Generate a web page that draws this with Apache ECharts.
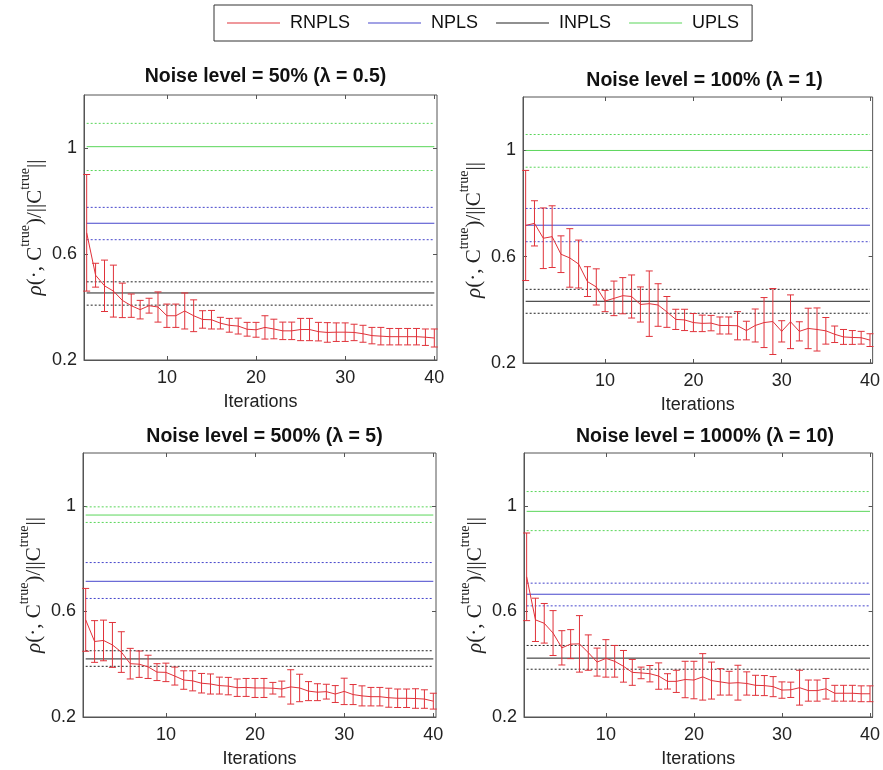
<!DOCTYPE html>
<html>
<head>
<meta charset="utf-8">
<script src="https://cdn.jsdelivr.net/npm/echarts@6/dist/echarts.min.js"></script>
<style>
html,body{margin:0;padding:0;background:#fff;}
#chart{width:883px;height:770px;}
</style>
</head>
<body>
<div id="chart"></div>
<script>
// ---- Data ----
const iterations = [1,2,3,4,5,6,7,8,9,10,11,12,13,14,15,16,17,18,19,20,21,22,23,24,25,26,27,28,29,30,31,32,33,34,35,36,37,38,39,40];
const xTicks = [10, 20, 30, 40];
const yTicks = [0.2, 0.6, 1];
const legendNames = ['RNPLS', 'NPLS', 'INPLS', 'UPLS'];
const panelTitles = [
  'Noise level = 50% (\u03bb = 0.5)',
  'Noise level = 100% (\u03bb = 1)',
  'Noise level = 500% (\u03bb = 5)',
  'Noise level = 1000% (\u03bb = 10)'
];

// RNPLS mean and error (half-width) per iteration
const rnplsMean50 = [0.68,0.52,0.48,0.46,0.425,0.405,0.39,0.405,0.40,0.367,0.367,0.385,0.367,0.353,0.352,0.339,0.331,0.328,0.316,0.314,0.323,0.317,0.31,0.31,0.315,0.315,0.307,0.304,0.305,0.305,0.304,0.299,0.292,0.29,0.288,0.288,0.288,0.288,0.286,0.283];
const rnplsErr50  = [0.22,0.045,0.097,0.098,0.065,0.044,0.035,0.028,0.057,0.044,0.044,0.068,0.06,0.033,0.035,0.022,0.026,0.03,0.026,0.028,0.044,0.037,0.033,0.033,0.042,0.042,0.035,0.037,0.035,0.035,0.031,0.032,0.031,0.033,0.031,0.031,0.031,0.031,0.031,0.034];

const rnplsMean100 = [0.717,0.725,0.669,0.675,0.609,0.595,0.572,0.506,0.486,0.433,0.443,0.453,0.45,0.42,0.423,0.418,0.392,0.364,0.362,0.352,0.349,0.35,0.341,0.341,0.34,0.322,0.341,0.352,0.356,0.319,0.355,0.319,0.33,0.326,0.321,0.308,0.298,0.296,0.295,0.286];
const rnplsErr100  = [0.207,0.085,0.114,0.116,0.069,0.11,0.09,0.056,0.068,0.04,0.065,0.068,0.081,0.066,0.123,0.08,0.058,0.038,0.04,0.034,0.031,0.029,0.032,0.032,0.053,0.035,0.062,0.094,0.124,0.04,0.101,0.036,0.076,0.081,0.05,0.031,0.028,0.026,0.024,0.024];

const rnplsMean500 = [0.568,0.486,0.49,0.473,0.446,0.402,0.40,0.39,0.37,0.369,0.355,0.34,0.337,0.328,0.325,0.319,0.317,0.311,0.312,0.31,0.31,0.309,0.306,0.314,0.31,0.298,0.294,0.296,0.287,0.297,0.285,0.28,0.277,0.277,0.273,0.271,0.271,0.27,0.268,0.26];
const rnplsErr500  = [0.119,0.079,0.077,0.085,0.077,0.058,0.05,0.044,0.032,0.035,0.034,0.035,0.038,0.037,0.038,0.032,0.033,0.033,0.034,0.036,0.036,0.022,0.03,0.065,0.052,0.036,0.032,0.028,0.032,0.05,0.038,0.038,0.035,0.035,0.036,0.035,0.035,0.037,0.035,0.03];

const rnplsMean1000 = [0.731,0.568,0.555,0.518,0.462,0.476,0.477,0.444,0.408,0.422,0.411,0.392,0.369,0.367,0.364,0.355,0.335,0.335,0.342,0.34,0.352,0.338,0.333,0.328,0.33,0.327,0.32,0.319,0.315,0.302,0.303,0.311,0.3,0.3,0.307,0.29,0.29,0.29,0.288,0.288];
const rnplsErr1000  = [0.166,0.082,0.075,0.085,0.065,0.055,0.107,0.067,0.053,0.071,0.06,0.06,0.049,0.022,0.031,0.05,0.029,0.042,0.069,0.071,0.088,0.07,0.05,0.045,0.066,0.044,0.038,0.038,0.038,0.031,0.029,0.066,0.04,0.04,0.039,0.03,0.03,0.03,0.03,0.03];

// Reference levels: [mean, mean + std, mean - std]
const npls50  = [0.716, 0.776, 0.654];
const inpls50 = [0.453, 0.495, 0.407];
const upls50  = [1.005, 1.093, 0.915];

const npls100  = [0.718, 0.781, 0.656];
const inpls100 = [0.432, 0.477, 0.387];
const upls100  = [0.999, 1.059, 0.936];

const npls500  = [0.714, 0.785, 0.649];
const inpls500 = [0.420, 0.451, 0.392];
const upls500  = [0.965, 0.996, 0.937];

const npls1000  = [0.665, 0.707, 0.621];
const inpls1000 = [0.423, 0.471, 0.381];
const upls1000  = [0.979, 1.054, 0.906];

// ---- Layout / style ----
const panels = [
  {mean: rnplsMean50,   err: rnplsErr50,   npls: npls50,   inpls: inpls50,   upls: upls50},
  {mean: rnplsMean100,  err: rnplsErr100,  npls: npls100,  inpls: inpls100,  upls: upls100},
  {mean: rnplsMean500,  err: rnplsErr500,  npls: npls500,  inpls: inpls500,  upls: upls500},
  {mean: rnplsMean1000, err: rnplsErr1000, npls: npls1000, inpls: inpls1000, upls: upls1000}
];
const gridBoxes = [
  {left: 84,  top: 95,  width: 353, height: 265},
  {left: 523, top: 97,  width: 353, height: 266},
  {left: 83,  top: 453, width: 353, height: 264},
  {left: 524, top: 453, width: 352, height: 264}
];
const titleY = [62, 66, 422, 422];

const RED = '#e0323a', BLUE = '#4646cc', BLACK = '#222222', GREEN = '#5ad65a';
const FONT = "'Liberation Sans', Arial, sans-serif";
const FRAME = '#555555';

const grids = [], xAxes = [], yAxes = [], series = [], titles = [];

const yName = '{r|\u03c1}{m|(\u00b7, C}{s|true}{m|)/||C}{s|true}{m|||}';
const yNameRich = {
  r: {fontFamily: "'Liberation Serif', serif", fontStyle: 'italic', fontSize: 21, lineHeight: 28, verticalAlign: 'bottom', color: '#222'},
  m: {fontFamily: "'Liberation Serif', serif", fontSize: 21, lineHeight: 28, verticalAlign: 'bottom', color: '#222'},
  s: {fontFamily: "'Liberation Serif', serif", fontSize: 14, lineHeight: 13, verticalAlign: 'top', color: '#222'}
};

function errRender(params, api) {
  const x = api.value(0), m = api.value(1), e = api.value(2);
  const t = api.coord([x, m + e]);
  const b = api.coord([x, m - e]);
  const hw = 3.5;
  const st = {stroke: RED, lineWidth: 1};
  return {
    type: 'group',
    children: [
      {type: 'line', shape: {x1: t[0], y1: t[1], x2: b[0], y2: b[1]}, style: st},
      {type: 'line', shape: {x1: t[0] - hw, y1: t[1], x2: t[0] + hw, y2: t[1]}, style: st},
      {type: 'line', shape: {x1: b[0] - hw, y1: b[1], x2: b[0] + hw, y2: b[1]}, style: st}
    ]
  };
}

const xStart = iterations[0], xEnd = iterations[iterations.length - 1];

panels.forEach((p, i) => {
  const g = gridBoxes[i];
  grids.push(Object.assign({show: true, borderColor: FRAME, borderWidth: 1, backgroundColor: '#fff', containLabel: false}, g));
  titles.push({
    text: panelTitles[i],
    left: g.left + g.width / 2,
    top: titleY[i],
    textAlign: 'center',
    textStyle: {fontFamily: FONT, fontWeight: 'bold', fontSize: 19.5, color: '#111'}
  });
  xAxes.push({
    type: 'value', gridIndex: i, min: 0.7, max: 40.3, position: 'bottom',
    name: 'Iterations', nameLocation: 'middle', nameGap: 33,
    nameTextStyle: {fontFamily: FONT, fontSize: 18, color: '#222'},
    axisLine: {show: true, lineStyle: {color: FRAME}},
    axisTick: {show: true, inside: true, length: 4, customValues: xTicks, lineStyle: {color: FRAME}},
    axisLabel: {show: true, customValues: xTicks, margin: 9, fontFamily: FONT, fontSize: 18, color: '#222'},
    splitLine: {show: false}
  });
  yAxes.push({
    type: 'value', gridIndex: i, min: 0.2, max: 1.2, position: 'left',
    name: yName, nameLocation: 'middle', nameRotate: 90, nameGap: 38,
    nameTextStyle: {rich: yNameRich},
    axisLine: {show: true, lineStyle: {color: FRAME}},
    axisTick: {show: true, inside: true, length: 4, customValues: yTicks, lineStyle: {color: FRAME}},
    axisLabel: {show: true, customValues: yTicks, margin: 7, fontFamily: FONT, fontSize: 18, color: '#222'},
    splitLine: {show: false}
  });
});
panels.forEach((p, i) => {
  xAxes.push({
    type: 'value', gridIndex: i, min: 0.7, max: 40.3, position: 'top',
    axisLine: {show: false},
    axisTick: {show: true, inside: true, length: 4, customValues: xTicks, lineStyle: {color: FRAME}},
    axisLabel: {show: false}, splitLine: {show: false}
  });
  yAxes.push({
    type: 'value', gridIndex: i, min: 0.2, max: 1.2, position: 'right',
    axisLine: {show: false},
    axisTick: {show: true, inside: true, length: 4, customValues: yTicks, lineStyle: {color: FRAME}},
    axisLabel: {show: false}, splitLine: {show: false}
  });
});

function hline(i, name, v, color, dotted) {
  return {
    type: 'line', name: name, xAxisIndex: i, yAxisIndex: i,
    data: [[xStart, v], [xEnd, v]],
    symbol: 'none', silent: true, animation: false, z: 2,
    lineStyle: {color: color, width: 1, type: dotted ? [2, 2] : 'solid'},
    itemStyle: {color: color}
  };
}

panels.forEach((p, i) => {
  series.push({
    type: 'line', name: 'RNPLS', xAxisIndex: i, yAxisIndex: i,
    data: iterations.map((x, k) => [x, p.mean[k]]),
    symbol: 'none', animation: false, z: 4,
    lineStyle: {color: RED, width: 1}, itemStyle: {color: RED}
  });
  [['NPLS', p.npls, BLUE], ['INPLS', p.inpls, BLACK], ['UPLS', p.upls, GREEN]].forEach(([nm, arr, col]) => {
    series.push(hline(i, nm, arr[0], col, false));
    series.push(hline(i, nm, arr[1], col, true));
    series.push(hline(i, nm, arr[2], col, true));
  });
  series.push({
    type: 'custom', name: 'RNPLS error', xAxisIndex: i, yAxisIndex: i,
    data: iterations.map((x, k) => [x, p.mean[k], p.err[k]]),
    encode: {x: 0, y: 1},
    renderItem: errRender, animation: false, z: 5, silent: true
  });
});

const chart = echarts.init(document.getElementById('chart'), null, {renderer: 'canvas'});
chart.setOption({
  backgroundColor: '#fff',
  animation: false,
  title: titles,
  legend: {
    data: legendNames,
    left: 214, top: 5,
    padding: [9, 13],
    itemGap: 18, itemWidth: 53, itemHeight: 1,
    icon: 'rect',
    borderColor: '#333', borderWidth: 1,
    backgroundColor: '#fff',
    textStyle: {fontFamily: FONT, fontSize: 18, color: '#111', padding: [0, 0, 0, 5], lineHeight: 18},
    selectedMode: false
  },
  grid: grids,
  xAxis: xAxes,
  yAxis: yAxes,
  series: series
});
</script>
</body>
</html>
